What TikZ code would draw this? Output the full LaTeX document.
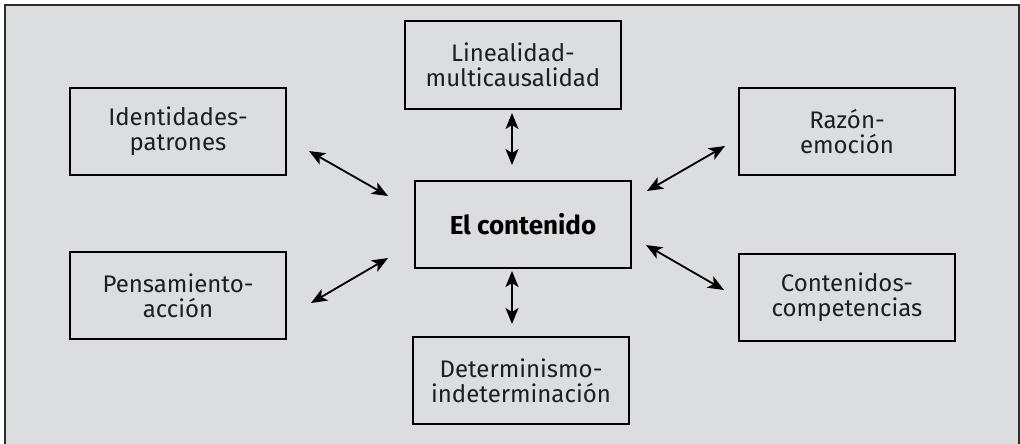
\documentclass[tikz,border=0pt]{standalone}
\usepackage{fontspec}
\setmainfont{Fira Sans}
\usetikzlibrary{arrows.meta}
\definecolor{bggray}{HTML}{DCDDDF}
\definecolor{framegray}{HTML}{2E2E2E}
\definecolor{txtgray}{HTML}{1E1E1E}
\tikzset{
  topicbox/.style={draw=black, line width=2pt, minimum width=216pt, minimum height=87pt,
    align=center, inner sep=0pt, text=txtgray,
    font=\fontsize{24}{25}\selectfont},
  centerbox/.style={topicbox, text=black, font=\fontsize{26}{28}\selectfont\bfseries},
  link/.style={line width=1.8pt, black,
    {Stealth[length=16pt,width=13pt,inset=4pt]}-{Stealth[length=16pt,width=13pt,inset=4pt]}}
}
\begin{document}
\begin{tikzpicture}[x=1pt,y=-1pt]
\useasboundingbox (0,0) rectangle (1020,444);
\fill[bggray] (5,5) rectangle (1019,446);
\draw[framegray, line width=1.6pt] (5,446) -- (5,5) -- (1019,5) -- (1019,446);

\node[topicbox] (lin) at (513,65) {Linealidad-\\multicausalidad};
\node[topicbox] (ide) at (178,131.5) {Identidades-\\patrones};
\node[topicbox] (raz) at (847,131.5) {Razón-\\emoción};
\node[centerbox] (cen) at (523,224) {El contenido};
\node[topicbox] (pen) at (178,295.5) {Pensamiento-\\acción};
\node[topicbox] (con) at (847,297.5) {Contenidos-\\competencias};
\node[topicbox] (det) at (521,380.5) {Determinismo-\\indeterminación};

\coordinate (ide-a) at (309,151);
\coordinate (ide-b) at (388,196);
\coordinate (raz-a) at (725,146);
\coordinate (raz-b) at (647,191);
\coordinate (pen-a) at (311,303);
\coordinate (pen-b) at (388,258);
\coordinate (con-a) at (724,290);
\coordinate (con-b) at (646,245);
\coordinate (lin-a) at (512,113);
\coordinate (lin-b) at (512,165);
\coordinate (det-a) at (512,324);
\coordinate (det-b) at (512,271);

\draw[link] (ide-a) -- (ide-b);
\draw[link] (raz-a) -- (raz-b);
\draw[link] (pen-a) -- (pen-b);
\draw[link] (con-a) -- (con-b);
\draw[link] (lin-a) -- (lin-b);
\draw[link] (det-a) -- (det-b);
\end{tikzpicture}
\end{document}
